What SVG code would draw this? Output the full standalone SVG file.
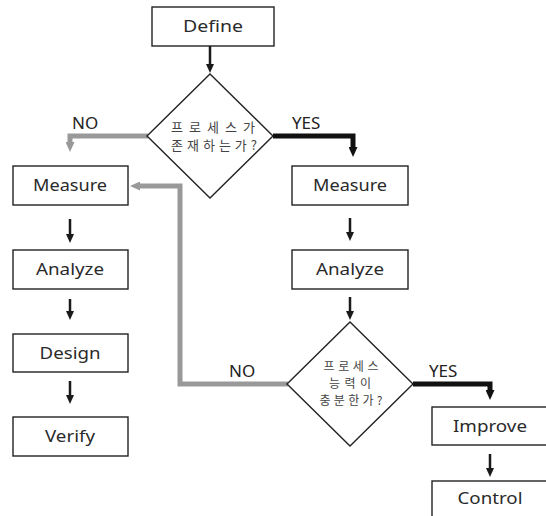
<svg xmlns="http://www.w3.org/2000/svg" width="546" height="516" viewBox="0 0 546 516">
<style>
.box{fill:#fff;stroke:#222;stroke-width:1.4}
.dia{fill:#fff;stroke:#222;stroke-width:1.4}
.lbl{font-family:"Noto Sans","Open Sans","Liberation Sans",sans-serif;font-size:17px;fill:#2a2a2a;text-anchor:middle}
.kr{font-family:"Noto Sans CJK KR","Noto Sans",sans-serif;font-size:13px;fill:#444;text-anchor:middle}
.kr2{font-family:"Noto Sans CJK KR","Noto Sans",sans-serif;font-size:12px;fill:#444;text-anchor:middle}
.yn{font-family:"Noto Sans","Liberation Sans",sans-serif;font-size:17px;fill:#222}
.ar{fill:none;stroke:#1a1a1a;stroke-width:2.5}
.gr{fill:none;stroke:#999;stroke-width:5;stroke-linejoin:miter}
.bk{fill:none;stroke:#111;stroke-width:5;stroke-linejoin:miter}
</style>
<defs>
<marker id="ah" markerUnits="userSpaceOnUse" markerWidth="9" markerHeight="8" refX="0" refY="4" orient="auto"><path d="M0,0 L9,4 L0,8 z" fill="#1a1a1a"/></marker>
<marker id="ahg" markerUnits="userSpaceOnUse" markerWidth="10" markerHeight="9" refX="0" refY="4.5" orient="auto"><path d="M0,0 L10,4.5 L0,9 z" fill="#999"/></marker>
<marker id="ahb" markerUnits="userSpaceOnUse" markerWidth="10" markerHeight="9" refX="0" refY="4.5" orient="auto"><path d="M0,0 L10,4.5 L0,9 z" fill="#111"/></marker>
</defs>
<rect width="546" height="516" fill="#fff"/>
<g id="connectors">
<line class="ar" x1="210" y1="46" x2="210" y2="64" marker-end="url(#ah)"/>
<polyline class="gr" points="148,136 70,136 70,142" marker-end="url(#ahg)"/>
<polyline class="bk" points="273,136 353,136 353,147" marker-end="url(#ahb)"/>
<line class="ar" x1="70" y1="219" x2="70" y2="234" marker-end="url(#ah)"/>
<line class="ar" x1="70" y1="299" x2="70" y2="311" marker-end="url(#ah)"/>
<line class="ar" x1="70" y1="381" x2="70" y2="395" marker-end="url(#ah)"/>
<line class="ar" x1="350" y1="218" x2="350" y2="232" marker-end="url(#ah)"/>
<line class="ar" x1="350" y1="297" x2="350" y2="311" marker-end="url(#ah)"/>
<polyline class="gr" points="288,384 180,384 180,186 140,186" marker-end="url(#ahg)"/>
<polyline class="bk" points="413,384 490,384 490,390" marker-end="url(#ahb)"/>
<line class="ar" x1="490" y1="454" x2="490" y2="468" marker-end="url(#ah)"/>
<text class="yn" x="72" y="129">NO</text>
<text class="yn" x="292" y="129">YES</text>
<text class="yn" x="229" y="377">NO</text>
<text class="yn" x="429" y="377">YES</text>
</g>
<g id="define"><rect class="box" x="152" y="7" width="122" height="39"/><text class="lbl" x="213" y="32" textLength="60" lengthAdjust="spacingAndGlyphs">Define</text></g>
<g id="decision1"><polygon class="dia" points="210,74 273,136 210,198 147,136"/>
<text class="kr" x="213" y="132" textLength="84" lengthAdjust="spacing">프로세스가</text>
<text class="kr" x="214" y="150" textLength="86" lengthAdjust="spacing">존재하는가?</text></g>
<g id="measure-left"><rect class="box" x="13" y="166" width="115" height="39"/><text class="lbl" x="70" y="191" textLength="74" lengthAdjust="spacingAndGlyphs">Measure</text></g>
<g id="analyze-left"><rect class="box" x="13" y="250" width="115" height="39"/><text class="lbl" x="70" y="275" textLength="68" lengthAdjust="spacingAndGlyphs">Analyze</text></g>
<g id="design"><rect class="box" x="13" y="334" width="115" height="38"/><text class="lbl" x="70" y="359" textLength="61" lengthAdjust="spacingAndGlyphs">Design</text></g>
<g id="verify"><rect class="box" x="13" y="417" width="115" height="39"/><text class="lbl" x="70" y="442" textLength="50" lengthAdjust="spacingAndGlyphs">Verify</text></g>
<g id="measure-right"><rect class="box" x="292" y="166" width="116" height="39"/><text class="lbl" x="350" y="191" textLength="74" lengthAdjust="spacingAndGlyphs">Measure</text></g>
<g id="analyze-right"><rect class="box" x="292" y="250" width="116" height="39"/><text class="lbl" x="350" y="275" textLength="68" lengthAdjust="spacingAndGlyphs">Analyze</text></g>
<g id="decision2"><polygon class="dia" points="350,322 413,384 350,446 287,384"/>
<text class="kr2" x="351" y="371" textLength="55" lengthAdjust="spacing">프로세스</text>
<text class="kr2" x="350" y="388" textLength="42" lengthAdjust="spacing">능력이</text>
<text class="kr2" x="351" y="405" textLength="63" lengthAdjust="spacing">충분한가?</text></g>
<g id="improve"><rect class="box" x="432" y="407" width="117" height="38"/><text class="lbl" x="490" y="432" textLength="74" lengthAdjust="spacingAndGlyphs">Improve</text></g>
<g id="control"><rect class="box" x="432" y="481" width="117" height="39"/><text class="lbl" x="490" y="504" textLength="65" lengthAdjust="spacingAndGlyphs">Control</text></g>
</svg>
